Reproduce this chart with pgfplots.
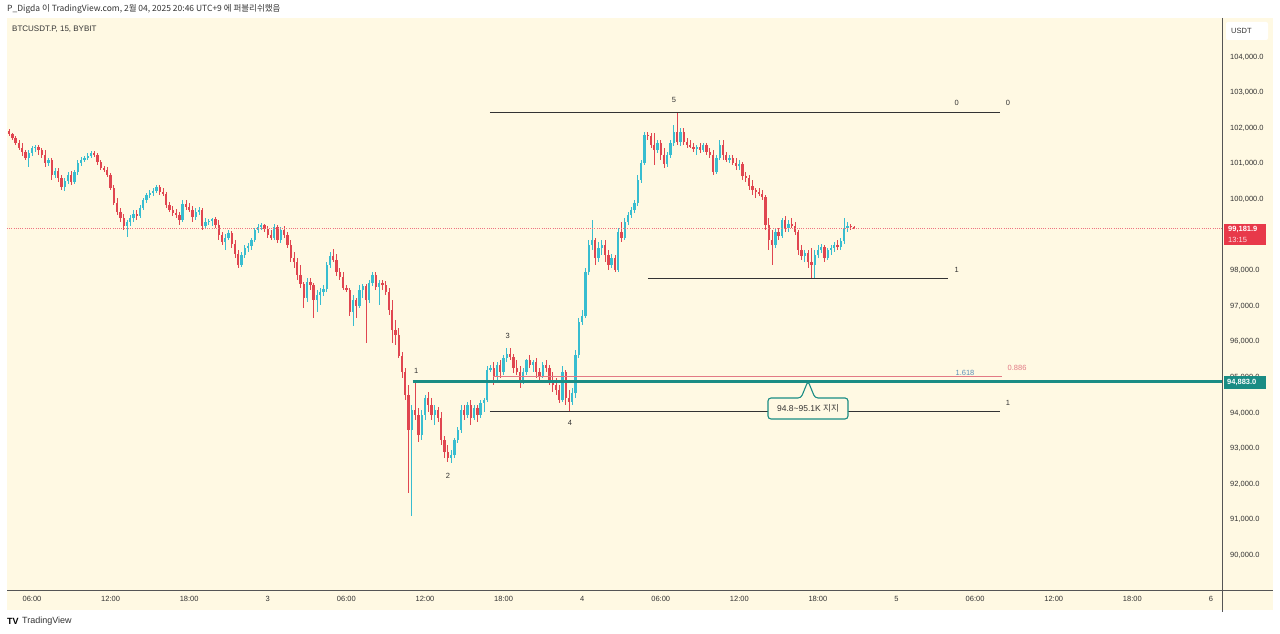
\documentclass[border=0pt]{standalone}
\usepackage{pgfplots}
\pgfplotsset{compat=1.18}
\usepackage{pgfplotstable}
\usepackage{fontspec}
\setmainfont{Liberation Sans}
\newfontfamily\kr{Noto Sans CJK KR}

\definecolor{bgc}{HTML}{FFF9E3}
\definecolor{upc}{HTML}{38BDD0}
\definecolor{dnc}{HTML}{E04650}
\definecolor{tealc}{HTML}{1A8C84}
\definecolor{tagred}{HTML}{E8394A}
\definecolor{pinkc}{HTML}{E27A85}
\definecolor{fibblue}{HTML}{5B8FB9}
\definecolor{txt}{HTML}{333333}
\definecolor{axc}{HTML}{555555}

% BTCUSDT.P 15m candles, index 0 = Feb 2 04:15
\pgfplotstableread{
i o h l c
0 101923 101979 101783 101839
1 101839 101867 101671 101727
2 101727 101783 101530 101587
3 101587 101671 101390 101446
4 101446 101587 101222 101334
5 101334 101390 101109 101165
6 101165 101390 100913 101306
7 101306 101502 101222 101446
8 101446 101531 101334 101474
9 101474 101531 101250 101390
10 101390 101446 101165 101250
11 101250 101390 100913 101025
12 101025 101165 100941 101109
13 101109 101165 100548 100689
14 100689 100885 100605 100801
15 100801 100885 100492 100605
16 100605 100689 100268 100352
17 100352 100605 100240 100520
18 100520 100773 100436 100689
19 100689 100801 100408 100492
20 100492 100829 100436 100773
21 100773 101109 100689 101025
22 101025 101193 100941 101109
23 101109 101222 101053 101165
24 101165 101306 101109 101222
25 101222 101362 101165 101306
26 101306 101362 101193 101250
27 101250 101306 100969 101053
28 101053 101109 100829 100885
29 100885 100941 100773 100829
30 100829 100913 100633 100689
31 100689 100745 100268 100324
32 100324 100408 99847 99903
33 99903 100044 99566 99651
34 99651 99763 99370 99482
35 99482 99595 99146 99258
36 99258 99426 98949 99370
37 99370 99566 99258 99482
38 99482 99707 99370 99595
39 99595 99707 99426 99538
40 99538 99847 99482 99763
41 99763 100043 99707 99987
42 99987 100184 99903 100128
43 100128 100268 100043 100184
44 100184 100324 100100 100240
45 100240 100408 100184 100352
46 100352 100408 100128 100212
47 100212 100324 100100 100156
48 100156 100212 99763 99847
49 99847 99931 99651 99707
50 99707 99819 99538 99623
51 99623 99735 99482 99566
52 99566 99651 99286 99426
53 99426 99987 99370 99875
54 99875 99987 99707 99791
55 99791 99903 99651 99707
56 99707 99819 99370 99510
57 99510 99763 99426 99651
58 99651 99791 99566 99707
59 99707 99763 99146 99258
60 99258 99482 99202 99370
61 99370 99454 99286 99398
62 99398 99482 99258 99454
63 99454 99510 99202 99286
64 99286 99426 98865 99005
65 99005 99090 98725 98809
66 98809 99034 98584 98921
67 98921 99146 98865 99062
68 99062 99118 98641 98753
69 98753 98865 98360 98472
70 98472 98584 98079 98163
71 98163 98528 98107 98444
72 98444 98725 98360 98641
73 98641 98781 98528 98697
74 98697 98921 98584 98865
75 98865 99202 98809 99146
76 99146 99314 99062 99230
77 99230 99342 99146 99286
78 99286 99314 99090 99174
79 99174 99258 98921 99005
80 99005 99146 98865 98921
81 98921 99314 98865 99230
82 99230 99286 98781 98865
83 98865 99230 98781 99146
84 99146 99258 98921 99005
85 99005 99090 98641 98725
86 98725 98865 98248 98360
87 98360 98528 98079 98248
88 98248 98360 97743 97883
89 97883 98163 97518 97630
90 97630 97687 96957 97238
91 97238 97799 97125 97687
92 97687 97799 97462 97603
93 97603 97659 96676 97182
94 97182 97462 96845 97322
95 97322 97518 97041 97406
96 97406 97603 97294 97490
97 97490 98248 97406 98163
98 98163 98528 98079 98416
99 98416 98612 98248 98304
100 98304 98472 97855 97967
101 97967 98079 97743 97827
102 97827 97967 97462 97518
103 97518 97603 97406 97462
104 97462 97518 96733 96845
105 96845 97322 96452 97182
106 97182 97238 96676 97013
107 97013 97603 96957 97462
108 97462 97631 97238 97575
109 97575 97631 95975 97182
110 97182 97743 97097 97659
111 97659 97967 97575 97883
112 97883 97967 97462 97546
113 97546 97743 97041 97659
114 97659 97743 97462 97603
115 97603 97715 97322 97406
116 97406 97518 96760 96901
117 96901 97182 95975 96340
118 96340 96620 95919 96200
119 96200 96396 95554 95610
120 95610 95723 94993 95161
121 95161 95273 94376 94516
122 94516 94797 91767 93534
123 93534 94236 91121 94095
124 94095 94853 93815 93955
125 93955 94151 93197 93394
126 93394 94095 93254 93955
127 93955 94516 93815 94432
128 94432 94600 94039 94236
129 94236 94432 93815 93955
130 93955 94236 93675 94095
131 94095 94180 93759 93871
132 93871 94039 93113 93254
133 93254 93366 92749 92917
134 92917 93113 92637 92749
135 92749 92973 92609 92833
136 92833 93310 92749 93254
137 93254 93619 93170 93534
138 93534 94236 93450 94095
139 94095 94236 93815 93955
140 93955 94320 93871 94236
141 94236 94376 93675 93871
142 93871 94236 93815 94151
143 94151 94236 93759 93955
144 93955 94376 93871 94292
145 94292 94432 94039 94376
146 94376 95330 94320 95218
147 95218 95358 95161 95274
148 95274 95442 94797 95049
149 95049 95442 94937 95358
150 95358 95498 94993 95161
151 95161 95638 95077 95554
152 95554 95835 95442 95666
153 95666 95835 95498 95582
154 95582 95666 95133 95274
155 95274 95498 95077 95161
156 95161 95330 94713 94937
157 94937 95274 94825 95161
158 95161 95526 95077 95498
159 95498 95638 95274 95358
160 95358 95498 95161 95442
161 95442 95554 94993 95161
162 95161 95274 94937 95049
163 95049 95442 94993 95358
164 95358 95498 95161 95274
165 95274 95358 94797 94937
166 94937 95161 94600 94797
167 94797 94993 94516 94657
168 94657 94797 94292 94376
169 94376 95330 94320 95161
170 95161 95218 94236 94432
171 94432 94657 94050 94320
172 94320 94713 94236 94572
173 94572 95779 94432 95638
174 95638 96676 95554 96564
175 96564 96901 96480 96733
176 96733 98079 96676 97967
177 97967 98865 97883 98725
178 98725 99426 98584 98865
179 98865 98921 98163 98360
180 98360 98809 98248 98641
181 98641 98865 98444 98725
182 98725 98865 98248 98444
183 98444 98584 98023 98163
184 98163 98472 98079 98360
185 98360 98444 97967 98023
186 98023 99202 97967 99090
187 99090 99370 98809 98921
188 98921 99482 98865 99370
189 99370 99651 99286 99566
190 99566 99791 99482 99707
191 99707 99987 99623 99903
192 99903 100689 99819 100548
193 100548 101109 100464 101025
194 101025 101895 100969 101811
195 101811 101895 101671 101783
196 101783 101867 101446 101531
197 101531 101867 100969 101390
198 101390 101671 101306 101587
199 101587 101671 101109 101250
200 101250 101446 100885 100997
201 100997 101334 100913 101250
202 101250 101671 101165 101587
203 101587 102091 101503 101895
204 101895 102450 101531 101615
205 101615 102007 101503 101895
206 101895 102007 101531 101615
207 101615 101727 101446 101531
208 101531 101671 101446 101474
209 101474 101587 101334 101418
210 101418 101531 101250 101474
211 101474 101587 101306 101390
212 101390 101587 101334 101531
213 101531 101587 101250 101334
214 101334 101446 101165 101250
215 101250 101390 100689 100773
216 100773 101250 100717 101165
217 101165 101671 101109 101531
218 101531 101671 101109 101250
219 101250 101334 101053 101109
220 101109 101250 101025 101165
221 101165 101250 100969 101025
222 101025 101165 100829 100941
223 100941 101109 100829 100997
224 100997 101053 100548 100661
225 100661 100773 100492 100605
226 100605 100689 100268 100380
227 100380 100548 100128 100268
228 100268 100324 100043 100212
229 100212 100324 100100 100156
230 100156 100268 99987 100071
231 100071 100128 99146 99286
232 99286 99482 98584 98865
233 98865 99146 98163 98725
234 98725 99202 98641 99090
235 99090 99202 98865 98977
236 98977 99482 98921 99426
237 99426 99538 99090 99202
238 99202 99426 99090 99314
239 99314 99482 99202 99258
240 99258 99370 99005 99090
241 99090 99146 98444 98584
242 98584 98725 98304 98416
243 98416 98584 98248 98500
244 98500 98584 98079 98248
245 98248 98641 97780 98163
246 98163 98584 97780 98444
247 98444 98725 98360 98584
248 98584 98753 98500 98669
249 98669 98725 98248 98360
250 98360 98641 98304 98584
251 98584 98725 98444 98641
252 98641 98809 98528 98725
253 98725 98865 98584 98669
254 98669 98921 98584 98837
255 98837 99482 98753 99202
256 99202 99370 99090 99258
257 99258 99314 99150 99230
258 99230 99260 99160 99181.9
}\candles

\begin{document}
\begin{tikzpicture}[x=1pt,y=1pt,font=\fontsize{7.5}{9}\selectfont]
\path[use as bounding box] (0,0) rectangle (1280,634);
\fill[white] (0,0) rectangle (1280,634);
\fill[bgc] (7,24) rectangle (1273,616);

\begin{axis}[
  at={(7pt,44pt)}, anchor=south west,
  scale only axis, width=1215pt, height=572pt,
  xmin=-0.635, xmax=370.4, ymin=89030, ymax=105095,
  axis x line=bottom, axis y line=right,
  axis line style={draw=none},
  major tick length=0pt,
  xtick={7,31,55,79,103,127,151,175,199,223,247,271,295,319,343,367},
  xticklabels={06:00,12:00,18:00,3,06:00,12:00,18:00,4,06:00,12:00,18:00,5,06:00,12:00,18:00,6},
  ytick={90000,91000,...,104000},
  scaled y ticks=false,
  /pgf/number format/assume math mode=true,
  tick label style={font=\fontsize{7.5}{9}\selectfont, text=txt},
  xticklabel style={anchor=center, inner sep=0pt, yshift=-9pt},
  yticklabel style={anchor=west, inner sep=0pt, xshift=8pt,
    /pgf/number format/fixed, /pgf/number format/fixed zerofill,
    /pgf/number format/precision=1, /pgf/number format/1000 sep={,}},
]
% wicks
\addplot[draw=none, mark=none, forget plot,
  restrict expr to domain={\thisrow{c}-\thisrow{o}}{0:100000},
  error bars/.cd, y dir=plus, y explicit, error mark=none,
  error bar style={draw=upc, line width=0.8pt, solid}]
  table[x=i, y=l, y error plus expr=\thisrow{h}-\thisrow{l}] {\candles};
\addplot[draw=none, mark=none, forget plot,
  restrict expr to domain={\thisrow{c}-\thisrow{o}}{-100000:-0.001},
  error bars/.cd, y dir=plus, y explicit, error mark=none,
  error bar style={draw=dnc, line width=0.8pt, solid}]
  table[x=i, y=l, y error plus expr=\thisrow{h}-\thisrow{l}] {\candles};
% bodies
\addplot[draw=none, mark=none, forget plot,
  restrict expr to domain={\thisrow{c}-\thisrow{o}}{0:100000},
  error bars/.cd, y dir=plus, y explicit, error mark=none,
  error bar style={draw=upc, line width=2.3pt, solid}]
  table[x=i, y=o, y error plus expr=\thisrow{c}-\thisrow{o}] {\candles};
\addplot[draw=none, mark=none, forget plot,
  restrict expr to domain={\thisrow{c}-\thisrow{o}}{-100000:-0.001},
  error bars/.cd, y dir=plus, y explicit, error mark=none,
  error bar style={draw=dnc, line width=2.3pt, solid}]
  table[x=i, y=c, y error plus expr=\thisrow{o}-\thisrow{c}] {\candles};

% last price line
\addplot[tagred!70, line width=0.6pt, dash pattern=on 0.8pt off 1.4pt] coordinates {(-0.635,99181.9) (370.4,99181.9)};
% wave levels
\addplot[txt, line width=0.8pt] coordinates {(146.8,102450) (302.6,102450)};
\addplot[txt, line width=0.8pt] coordinates {(195.1,97780) (286.7,97780)};
\addplot[txt, line width=0.8pt] coordinates {(146.8,94050) (302.6,94050)};
\addplot[pinkc, line width=0.8pt] coordinates {(147.8,95030) (303.2,95030)};
\addplot[fibblue, line width=0.9pt] coordinates {(195.1,94925) (286.7,94925)};
\addplot[tealc, line width=2.4pt] coordinates {(123.3,94883) (370.4,94883)};

% labels
\node[text=txt] at (axis cs:124.3,95190) {1};
\node[text=txt] at (axis cs:134.0,92244) {2};
\node[text=txt] at (axis cs:152.3,96171) {3};
\node[text=txt] at (axis cs:171.3,93731) {4};
\node[text=txt] at (axis cs:203.0,102793) {5};
\node[text=txt] at (axis cs:289.4,102709) {0};
\node[text=txt] at (axis cs:305.0,102709) {0};
\node[text=txt] at (axis cs:289.4,98023) {1};
\node[text=txt] at (axis cs:305.0,94292) {1};
\node[text=fibblue] at (axis cs:291.9,95134) {1.618};
\node[text=pinkc] at (axis cs:307.8,95274) {0.886};
\end{axis}

% axis lines
\draw[axc, line width=0.8pt] (1222.5,616) -- (1222.5,22);
\draw[axc, line width=0.8pt] (7,44) -- (1273,44);

% callout
\draw[tealc, line width=1.1pt, fill=bgc, rounded corners=3pt]
  (768,236) -- (801,236) -- (808,253) -- (815,236) -- (848,236) -- (848,215) -- (768,215) -- cycle;
\node[text=txt, inner sep=0pt] at (808,225.5) {\fontsize{8.5}{10}\selectfont 94.8\textasciitilde95.1K {\kr 지지}};

% price tags
\fill[tagred] (1224,389) rectangle (1266,410);
\node[text=white, inner sep=0pt, anchor=west] at (1228,404.5) {\bfseries 99,181.9};
\node[text=white!85!tagred, inner sep=0pt, anchor=west] at (1228,394.5) {13:15};
\fill[tealc] (1224,245) rectangle (1266,258);
\node[text=white, inner sep=0pt, anchor=west] at (1227,251.5) {\bfseries 94,883.0};

% USDT box
\fill[white, rounded corners=2pt] (1226,594) rectangle (1268,612);
\node[text=txt, inner sep=0pt, anchor=west] at (1231,603) {USDT};

% header, symbol, footer
\node[text=txt, inner sep=0pt, anchor=west] at (7,625) {\kr\fontsize{8.5}{10}\selectfont P\_Digda 이 TradingView.com, 2월 04, 2025 20:46 UTC+9 에 퍼블리쉬했음};
\node[text=txt, inner sep=0pt, anchor=west] at (12,605) {\fontsize{8}{9}\selectfont BTCUSDT.P, 15, BYBIT};
\node[text=black, inner sep=0pt, anchor=west] at (7,13) {\bfseries\fontsize{9}{10}\selectfont TV};
\node[text=txt, inner sep=0pt, anchor=west] at (22,13) {\fontsize{9}{10}\selectfont TradingView};
\end{tikzpicture}
\end{document}
